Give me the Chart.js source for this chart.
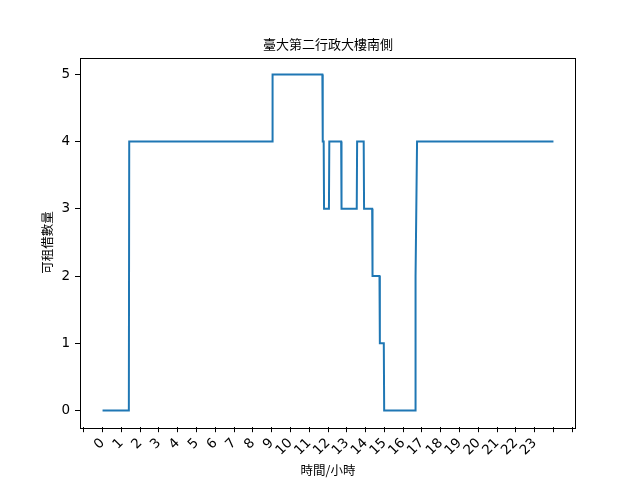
<!DOCTYPE html>
<html>
<head>
<meta charset="utf-8">
<script src="https://cdn.jsdelivr.net/npm/chart.js@4/dist/chart.umd.min.js"></script>
<style>
html,body{margin:0;padding:0;background:#fff;}
#wrap{width:640px;height:480px;position:relative;}
</style>
</head>
<body>
<div id="wrap"><canvas id="c" width="640" height="480"></canvas></div>
<script>
// Data (hours of day, available count)
const hours  = [0, 1.40, 1.42, 9.03, 9.05, 11.70, 11.72, 11.77, 11.79, 12.05, 12.07, 12.70, 12.72, 13.53, 13.55, 13.90, 13.92, 14.35, 14.37, 14.74, 14.76, 14.97, 14.99, 16.64, 16.66, 16.74, 24.0];
const counts = [0, 0,    4,    4,    5,    5,     4,     4,     3,     3,     4,     4,     3,     3,     4,     4,     3,     3,     2,     2,     1,     1,     0,     0,     2,     4,     4];
const hourLabels = ['0','1','2','3','4','5','6','7','8','9','10','11','12','13','14','15','16','17','18','19','20','21','22','23'];
const yTicks = [0, 1, 2, 3, 4, 5];
const titleText = '臺大第二行政大樓南側';
const xTitle = '時間/小時';
const yTitle = '可租借數量';

const points = hours.map((h, i) => ({x: h, y: counts[i]}));

const L = 80, R = 576, T = 57.6, B = 427.2;
const cjk = '"Noto Sans CJK TC", "Noto Sans CJK SC", sans-serif';

const frame = {
  id: 'frame',
  afterDraw(chart) {
    const ctx = chart.ctx;
    const a = chart.chartArea;
    ctx.save();
    ctx.strokeStyle = '#000';
    ctx.lineWidth = 1;
    ctx.strokeRect(Math.round(a.left) + 0.5, Math.round(a.top) + 0.5, Math.round(a.right - a.left) - 1, Math.round(a.bottom - a.top));
    ctx.fillStyle = '#000';
    ctx.textAlign = 'center';
    ctx.textBaseline = 'middle';
    ctx.font = '13px ' + cjk;
    ctx.fillText(titleText, (a.left + a.right) / 2, 44);
    ctx.font = '12.5px ' + cjk;
    ctx.fillText(xTitle, (a.left + a.right) / 2, 470);
    ctx.translate(47, (a.top + a.bottom) / 2);
    ctx.rotate(-Math.PI / 2);
    ctx.fillText(yTitle, 0, 0);
    ctx.restore();
  }
};

new Chart(document.getElementById('c'), {
  type: 'line',
  data: {
    datasets: [{
      data: points,
      borderColor: '#1f77b4',
      borderWidth: 2,
      pointRadius: 0,
      tension: 0,
      fill: false
    }]
  },
  options: {
    responsive: false,
    animation: false,
    devicePixelRatio: 1,
    layout: {padding: {left: 0, top: T, right: 640 - R, bottom: 0}},
    plugins: {legend: {display: false}, tooltip: {enabled: false}, title: {display: false}},
    scales: {
      x: {
        type: 'linear',
        min: -1.2,
        max: 25.2,
        afterBuildTicks: s => { const t = []; for (let v = -1; v <= 25; v++) t.push({value: v}); s.ticks = t; },
        afterFit: s => { s.height = 480 - B; },
        grid: {drawOnChartArea: false, drawTicks: true, tickLength: 5, color: '#000', tickWidth: 1},
        border: {display: false},
        ticks: {
          autoSkip: false,
          minRotation: 45,
          maxRotation: 45,
          padding: 3,
          color: '#000',
          font: {family: '"DejaVu Sans"', size: 13.5},
          callback: v => (v >= 0 && v < hourLabels.length) ? hourLabels[v] : ''
        }
      },
      y: {
        type: 'linear',
        min: -0.25,
        max: 5.25,
        afterBuildTicks: s => { s.ticks = yTicks.map(v => ({value: v})); },
        afterFit: s => { s.width = L; },
        grid: {drawOnChartArea: false, drawTicks: true, tickLength: 5, color: '#000', tickWidth: 1},
        border: {display: false},
        ticks: {
          padding: 5,
          color: '#000',
          font: {family: '"DejaVu Sans"', size: 13.5},
          callback: v => String(v)
        }
      }
    }
  },
  plugins: [frame]
});
</script>
</body>
</html>
